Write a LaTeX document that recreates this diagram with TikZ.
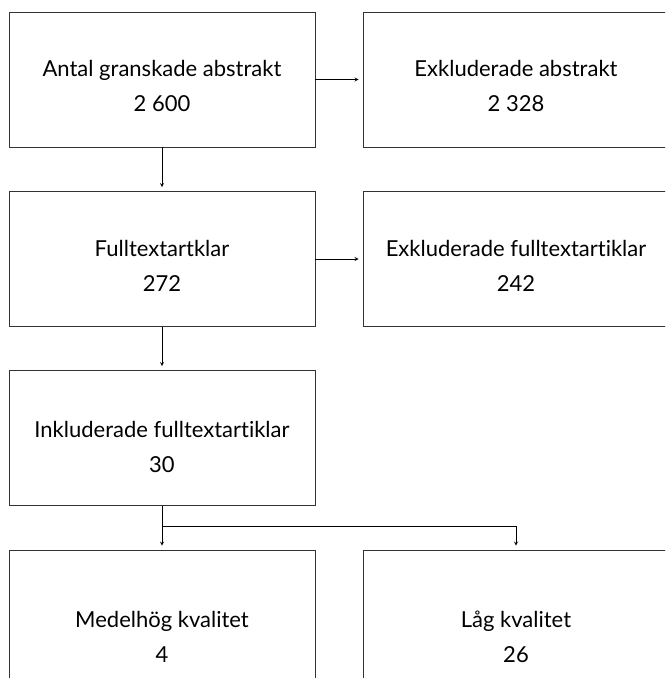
\documentclass[tikz,border=0pt]{standalone}
\usepackage{fontspec}
\setmainfont{Lato}[Ligatures=CommonOff]
\usetikzlibrary{positioning}

\tikzset{
  box/.style={draw=black!80, line width=0.8pt, rectangle,
    minimum width=306pt, minimum height=135pt, inner sep=0pt},
  boxlow/.style={box, minimum height=160pt},
  boxtext/.style={align=center, inner sep=0pt,
    font=\fontsize{22}{35}\selectfont}
}

\begin{document}
\begin{tikzpicture}
[->,>=stealth,x=1pt,y=-1pt,line width=0.8pt,shorten >=4pt]
\useasboundingbox (0,0) rectangle (665,678);
\clip[-] (0,0) rectangle (665,678);
% boxes
\node[box] (abs) at (162,79.5) {};
\node[box] (exabs) at (516,79.5) {};
\node[box] (full) at (162,259) {};
\node[box] (exfull) at (516,259) {};
\node[box] (incl) at (162,438) {};
\node[boxlow] (med) at (162,630) {};
\node[boxlow] (low) at (516,630) {};
% texts
\node[boxtext] (absT) at (162,86) {Antal granskade abstrakt\\2 600};
\node[boxtext] (exabsT) at (516,86) {Exkluderade abstrakt\\2 328};
\node[boxtext] (fullT) at (162,266) {Fulltextartklar\\272};
\node[boxtext] (exfullT) at (516,266) {Exkluderade fulltextartiklar\\242};
\node[boxtext] (inclT) at (162,447) {Inkluderade fulltextartiklar\\30};
\node[boxtext] (medT) at (162,637) {Medelhög kvalitet\\4};
\node[boxtext] (lowT) at (516,637) {Låg kvalitet\\26};
% connectors
\coordinate (split) at (162,526);
\draw (abs) -- (exabs);
\draw (abs) -- (full);
\draw (full) -- (exfull);
\draw (full) -- (incl);
\draw (incl) -- (med);
\draw (split) -| (low);
\end{tikzpicture}
\end{document}
